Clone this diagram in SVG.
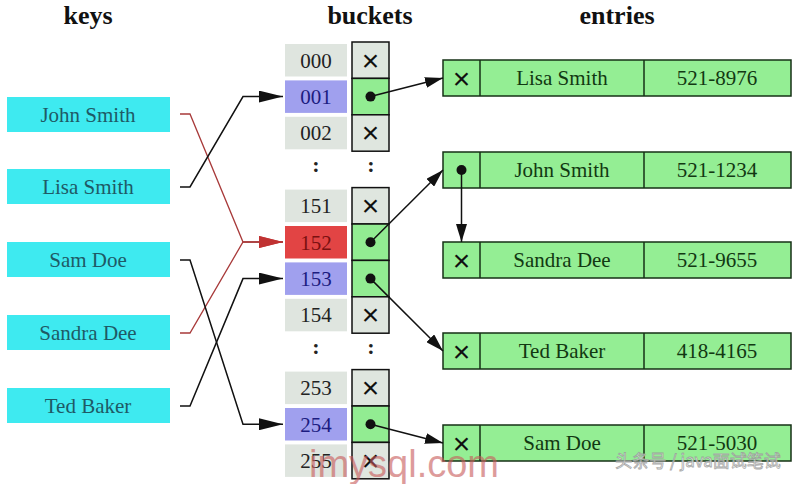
<svg xmlns="http://www.w3.org/2000/svg" width="800" height="484" viewBox="0 0 800 484">
<style>
text{font-family:"Liberation Serif","Times New Roman",serif;text-anchor:middle}
.title{font-size:26px;font-weight:bold;fill:#111}
.key rect{fill:#3eeaf0}
.key text{font-size:21px;fill:#1e5a66}
.idx{fill:#dfe5df}
.idxt{font-size:21px;fill:#222}
.pc{stroke:#111;stroke-width:1.5}
.nul{fill:#dfe6df}
.ptr{fill:#92ec92}
text.x,.ent text.x{font-family:"Liberation Sans","DejaVu Sans",sans-serif;font-size:30px;fill:#111}
.ent rect{fill:#94ee94;stroke:#163016;stroke-width:1.5}
.ent line{stroke:#163016;stroke-width:1.5}
.ent text{font-size:21px;fill:#123812}
.dot{fill:#111}
.col{font-size:22px;font-weight:bold;fill:#222}
.edge{fill:none;stroke:#111;stroke-width:1.5}
.red{fill:none;stroke:#a83a3a;stroke-width:1.3}
</style>
<defs>
<marker id="ab" markerUnits="userSpaceOnUse" markerWidth="24" markerHeight="12" refX="24" refY="6" orient="auto"><path d="M0,0 L24,6 L0,12 z" fill="#111"/></marker>
<marker id="ar" markerUnits="userSpaceOnUse" markerWidth="24" markerHeight="12" refX="24" refY="6" orient="auto"><path d="M0,0 L24,6 L0,12 z" fill="#c03232"/></marker>
<marker id="as" markerUnits="userSpaceOnUse" markerWidth="18" markerHeight="11" refX="18" refY="5.5" orient="auto"><path d="M0,0 L18,5.5 L0,11 z" fill="#111"/></marker>
</defs>
<rect width="800" height="484" fill="#ffffff"/>
<text class="title" x="88" y="24">keys</text>
<text class="title" x="370" y="24">buckets</text>
<text class="title" x="617" y="24">entries</text>

<g id="key-john" class="key"><rect x="7" y="97" width="163" height="35"/><text x="88" y="121.5">John Smith</text></g>
<g id="key-lisa" class="key"><rect x="7" y="169" width="163" height="35"/><text x="88" y="193.5">Lisa Smith</text></g>
<g id="key-sam" class="key"><rect x="7" y="242" width="163" height="35"/><text x="88" y="266.5">Sam Doe</text></g>
<g id="key-sandra" class="key"><rect x="7" y="315" width="163" height="35"/><text x="88" y="339.5">Sandra Dee</text></g>
<g id="key-ted" class="key"><rect x="7" y="388" width="163" height="35"/><text x="88" y="412.5">Ted Baker</text></g>

<g id="buckets">
<g id="b000"><rect class="idx" x="285" y="44" width="62" height="32.5"/><text class="idxt" x="316" y="67.5">000</text><rect class="pc nul" x="352" y="42" width="37" height="36.4"/><text class="x" x="370.5" y="70.5">×</text></g>
<g id="b001"><rect x="285" y="80.4" width="62" height="32.5" fill="#a0a0ee"/><text class="idxt" x="316" y="103.9" style="fill:#1c1c80">001</text><rect class="pc ptr" x="352" y="78.4" width="37" height="36.4"/><circle class="dot" cx="370.5" cy="96.6" r="5"/></g>
<g id="b002"><rect class="idx" x="285" y="116.8" width="62" height="32.5"/><text class="idxt" x="316" y="140.3">002</text><rect class="pc nul" x="352" y="114.8" width="37" height="36.4"/><text class="x" x="370.5" y="143.3">×</text></g>
<text class="col" x="316" y="172">:</text><text class="col" x="371" y="172">:</text>
<g id="b151"><rect class="idx" x="285" y="189.6" width="62" height="32.5"/><text class="idxt" x="316" y="213.1">151</text><rect class="pc nul" x="352" y="187.6" width="37" height="36.4"/><text class="x" x="370.5" y="216.1">×</text></g>
<g id="b152"><rect x="285" y="226" width="62" height="32.5" fill="#e24444"/><text class="idxt" x="316" y="249.5" style="fill:#7a1010">152</text><rect class="pc ptr" x="352" y="224" width="37" height="36.4"/><circle class="dot" cx="370.5" cy="242.2" r="5"/></g>
<g id="b153"><rect x="285" y="262.4" width="62" height="32.5" fill="#a0a0ee"/><text class="idxt" x="316" y="285.9" style="fill:#1c1c80">153</text><rect class="pc ptr" x="352" y="260.4" width="37" height="36.4"/><circle class="dot" cx="370.5" cy="278.6" r="5"/></g>
<g id="b154"><rect class="idx" x="285" y="298.8" width="62" height="32.5"/><text class="idxt" x="316" y="322.3">154</text><rect class="pc nul" x="352" y="296.8" width="37" height="36.4"/><text class="x" x="370.5" y="325.3">×</text></g>
<text class="col" x="316" y="354">:</text><text class="col" x="371" y="354">:</text>
<g id="b253"><rect class="idx" x="285" y="371.6" width="62" height="32.5"/><text class="idxt" x="316" y="395.1">253</text><rect class="pc nul" x="352" y="369.6" width="37" height="36.4"/><text class="x" x="370.5" y="398.1">×</text></g>
<g id="b254"><rect x="285" y="408" width="62" height="32.5" fill="#a0a0ee"/><text class="idxt" x="316" y="431.5" style="fill:#1c1c80">254</text><rect class="pc ptr" x="352" y="406" width="37" height="36.4"/><circle class="dot" cx="370.5" cy="424.2" r="5"/></g>
<g id="b255"><rect class="idx" x="285" y="444.4" width="62" height="32.5"/><text class="idxt" x="316" y="467.9">255</text><rect class="pc nul" x="352" y="442.4" width="37" height="36.4"/><text class="x" x="370.5" y="470.9">×</text></g>
</g>

<g id="entry-lisa" class="ent"><rect x="443" y="60" width="348" height="36"/><line x1="480" y1="60" x2="480" y2="96"/><line x1="644" y1="60" x2="644" y2="96"/><text class="x" x="461.5" y="88.5">×</text><text x="562" y="85">Lisa Smith</text><text x="717" y="85">521-8976</text></g>
<g id="entry-john" class="ent"><rect x="443" y="152" width="348" height="36"/><line x1="480" y1="152" x2="480" y2="188"/><line x1="644" y1="152" x2="644" y2="188"/><circle class="dot" cx="461.5" cy="170" r="5"/><text x="562" y="177">John Smith</text><text x="717" y="177">521-1234</text></g>
<g id="entry-sandra" class="ent"><rect x="443" y="242" width="348" height="36"/><line x1="480" y1="242" x2="480" y2="278"/><line x1="644" y1="242" x2="644" y2="278"/><text class="x" x="461.5" y="270.5">×</text><text x="562" y="267">Sandra Dee</text><text x="717" y="267">521-9655</text></g>
<g id="entry-ted" class="ent"><rect x="443" y="333" width="348" height="36"/><line x1="480" y1="333" x2="480" y2="369"/><line x1="644" y1="333" x2="644" y2="369"/><text class="x" x="461.5" y="361.5">×</text><text x="562" y="358">Ted Baker</text><text x="717" y="358">418-4165</text></g>
<g id="entry-sam" class="ent"><rect x="443" y="425" width="348" height="36"/><line x1="480" y1="425" x2="480" y2="461"/><line x1="644" y1="425" x2="644" y2="461"/><text class="x" x="461.5" y="453.5">×</text><text x="562" y="450">Sam Doe</text><text x="717" y="450">521-5030</text></g>

<g id="connectors">
<path class="red" d="M180,114 L190,114 L243,242 L283,242" marker-end="url(#ar)"/>
<path class="red" d="M180,333 L190,333 L243,242 L283,242" marker-end="url(#ar)"/>
<path class="edge" d="M180,187 L190,187 L243,96.6 L283,96.6" marker-end="url(#ab)"/>
<path class="edge" d="M180,260 L190,260 L243,424.2 L283,424.2" marker-end="url(#ab)"/>
<path class="edge" d="M180,406 L190,406 L243,278.6 L283,278.6" marker-end="url(#ab)"/>
<path class="edge" d="M370.5,96.6 L443,78" marker-end="url(#as)"/>
<path class="edge" d="M370.5,242.2 L443,170" marker-end="url(#as)"/>
<path class="edge" d="M370.5,278.6 L443,351" marker-end="url(#as)"/>
<path class="edge" d="M370.5,424.2 L443,443" marker-end="url(#as)"/>
<path class="edge" d="M461.5,170 L461.5,242" marker-end="url(#as)"/>
</g>

<text x="404" y="477" style="font-family:'Liberation Sans','DejaVu Sans',sans-serif;font-size:38px;fill:#c85a5a;opacity:0.6">imysql.com</text>
<text x="698" y="467" style="font-family:'Noto Sans CJK SC','Liberation Sans',sans-serif;font-size:17px;fill:#ffffff;stroke:#9a9a9a;stroke-width:0.8;opacity:0.85">头条号 / java面试笔试</text>
</svg>
